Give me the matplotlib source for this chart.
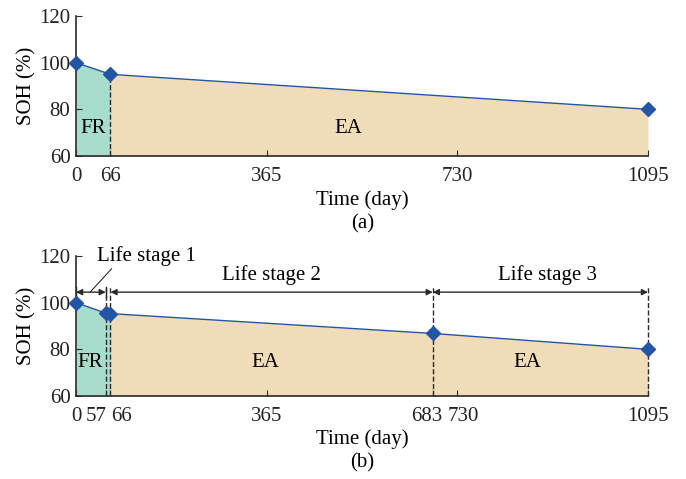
import matplotlib
matplotlib.use("Agg")
import matplotlib.pyplot as plt
import matplotlib.transforms as mtransforms

# Data
days_a = [0, 66, 1095]
soh_a = [100, 95, 80]
ticks_a = [0, 66, 365, 730, 1095]

days_b = [0, 57, 66, 683, 1095]
soh_b = [100, 95.5, 95.3, 86.8, 80]
ticks_b = [0, 57, 66, 365, 683, 730, 1095]

stages = [(0, 57), (66, 683), (683, 1095)]
stage_labels = ["Life stage 1", "Life stage 2", "Life stage 3"]

green = "#a8dccd"
beige = "#f0dcb8"
blue = "#2255a6"
dark = "#2b2b2b"

plt.rcParams["font.family"] = ["Liberation Serif", "DejaVu Serif"]
plt.rcParams["font.size"] = 15


def interp(days, soh, x):
    for i in range(len(days) - 1):
        if days[i] <= x <= days[i + 1]:
            t = (x - days[i]) / (days[i + 1] - days[i])
            return soh[i] + t * (soh[i + 1] - soh[i])
    return soh[-1]


def style_axes(ax, ticks):
    ax.set_xlim(0, 1095)
    ax.set_ylim(60, 120)
    ax.set_xticks(ticks)
    ax.set_yticks([60, 80, 100, 120])
    ax.spines["top"].set_visible(False)
    ax.spines["right"].set_visible(False)
    for s in ["left", "bottom"]:
        ax.spines[s].set_color(dark)
        ax.spines[s].set_linewidth(1.2)
    ax.tick_params(direction="in", length=4, color=dark, labelcolor="#222")
    ax.tick_params(axis="x", pad=8)
    ax.tick_params(axis="y", pad=4)
    ax.set_ylabel("SOH (%)", labelpad=2)


def fill_regions(ax, days, soh, split):
    xs_fr = [d for d in days if d <= split]
    ys_fr = [interp(days, soh, d) for d in xs_fr]
    ax.fill_between(xs_fr, ys_fr, 60, color=green, lw=0, zorder=1)
    xs_ea = [split] + [d for d in days if d > split]
    ys_ea = [interp(days, soh, d) for d in xs_ea]
    ax.fill_between(xs_ea, ys_ea, 60, color=beige, lw=0, zorder=1)


def shift_labels(ax, fig, shifts):
    # nudge crowded tick labels sideways (points)
    for lab, tick in zip(ax.get_xticklabels(), ax.get_xticks()):
        dx = shifts.get(int(tick), 0)
        if dx:
            off = mtransforms.ScaledTranslation(dx / 72, 0, fig.dpi_scale_trans)
            lab.set_transform(lab.get_transform() + off)


fig = plt.figure(figsize=(6.86, 4.79), dpi=100)

# (a)
ax1 = fig.add_axes([0.1108, 0.6743, 0.8338, 0.2923])
fill_regions(ax1, days_a, soh_a, 66)
ax1.plot(days_a, soh_a, color=blue, lw=1, marker="D", ms=7.5, zorder=4, clip_on=False)
ax1.plot([66, 66], [60, 95], color=dark, ls="--", lw=1, zorder=3)
ax1.text(33, 72, "FR", ha="center", va="center")
ax1.text(521, 72, "EA", ha="center", va="center")
style_axes(ax1, ticks_a)
ax1.set_xlabel("Time (day)", labelpad=3)
fig.text(0.528, 0.533, "(a)", ha="center", va="center")

# (b)
ax2 = fig.add_axes([0.1108, 0.1733, 0.8338, 0.2923])
fill_regions(ax2, days_b, soh_b, 66)
ax2.plot(days_b, soh_b, color=blue, lw=1, marker="D", ms=7.5, zorder=4, clip_on=False)
for d in [57, 66, 683, 1095]:
    ax2.plot([d, d], [60, 106.5], color=dark, ls="--", lw=1, zorder=3, clip_on=False)
arrow_y = 104.5
for (x0, x1), label in zip(stages, stage_labels):
    ax2.annotate("", xy=(x1, arrow_y), xytext=(x0, arrow_y),
                 arrowprops=dict(arrowstyle="<|-|>", color=dark, lw=1,
                                 mutation_scale=9, shrinkA=0, shrinkB=0))
ax2.plot([0, 0], [102.5, 106.5], color=dark, lw=1, zorder=3)
ax2.plot([57, 57], [102.5, 106.5], color=dark, lw=1, zorder=3)
ax2.text(134, 120, "Life stage 1", ha="center", va="center")
ax2.plot([27, 68], [arrow_y, 114.5], color=dark, lw=0.8)
ax2.text(375, 112, "Life stage 2", ha="center", va="center")
ax2.text(903, 112, "Life stage 3", ha="center", va="center")
ax2.text(27, 74.5, "FR", ha="center", va="center")
ax2.text(362, 74.5, "EA", ha="center", va="center")
ax2.text(864, 74.5, "EA", ha="center", va="center")
style_axes(ax2, ticks_b)
shift_labels(ax2, fig, {57: -7, 66: 8, 683: -4, 730: 4})
ax2.set_xlabel("Time (day)", labelpad=2)
fig.text(0.528, 0.033, "(b)", ha="center", va="center")

fig.savefig("out.png", dpi=100)
